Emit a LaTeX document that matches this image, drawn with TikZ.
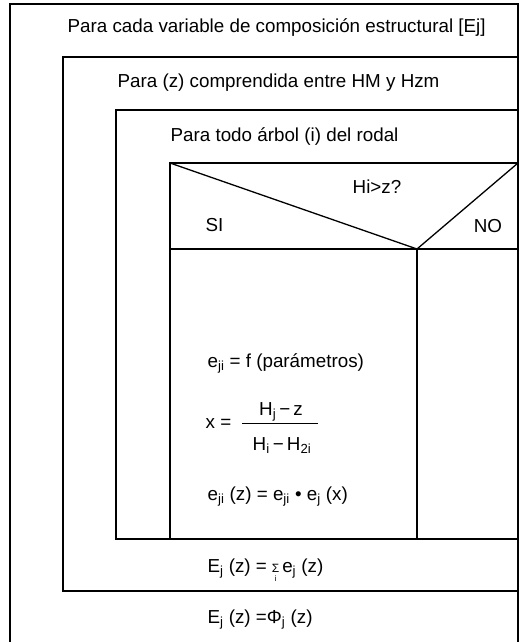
\documentclass[tikz,border=0pt]{standalone}
\usepackage{fontspec}
\setmainfont{Liberation Sans}
\begin{document}
\begin{tikzpicture}[x=1pt,y=-1pt,line width=1.3pt,
  txt/.style={inner sep=0pt,anchor=base west,font=\fontsize{18.8}{22}\selectfont},
  ctxt/.style={txt,anchor=base}]
\useasboundingbox (0,0) rectangle (524,642);
% frames
\draw (10,642) -- (10,4) -- (518,4) -- (518,642);
\draw (518,57) -- (63,57) -- (63,591) -- (518,591);
\draw (518,110) -- (116,110) -- (116,539) -- (518,539);
\draw (518,163) -- (170,163) -- (170,539);
\draw (170,249) -- (518,249);
\coordinate (dl) at (170,163);
\coordinate (dm) at (417,249);
\coordinate (dr) at (518,163);
\coordinate (db) at (417,539);
\draw (dl) -- (dm) -- (dr);
\draw (dm) -- (db);
% texts
\node[txt] (t1) at (67,33) {Para cada variable de composición estructural [Ej]};
\node[txt] (t2) at (117,88) {Para (z) comprendida entre HM y Hzm};
\node[txt] (t3) at (170,141) {Para todo árbol (i) del rodal};
\node[ctxt] (q) at (377,193) {Hi>z?};
\node[txt] (si) at (205,231) {SI};
\node[ctxt] (no) at (488,232) {NO};
\node[txt] (f1) at (207,367) {e\textsubscript{ji} = f (parámetros)};
\node[txt] (xeq) at (205,428) {x =};
\coordinate (bl) at (242,423);
\coordinate (br) at (318,423);
\draw[line width=1pt] (bl) -- (br);
\node[ctxt] (num) at (281,415) {H\textsubscript{j}\,−\,z};
\node[ctxt] (den) at (282,450) {H\textsubscript{i}\,−\,H\textsubscript{2i}};
\node[txt] (f3) at (207,500) {e\textsubscript{ji} (z) = e\textsubscript{ji} • e\textsubscript{j} (x)};
\node[txt] (f4a) at (207,572) {E\textsubscript{j} (z) =};
\node[ctxt,font=\fontsize{12}{12}\selectfont] (f4s) at ([xshift=8pt]f4a.base east) {Σ};
\node[ctxt,font=\fontsize{8}{8}\selectfont,yshift=-9pt] (f4i) at ([xshift=8pt]f4a.base east) {i};
\node[txt,xshift=14pt] (f4b) at (f4a.base east) {e\textsubscript{j} (z)};
\node[txt] (f5) at (207,623) {E\textsubscript{j} (z) =Φ\textsubscript{j} (z)};
\end{tikzpicture}
\end{document}
